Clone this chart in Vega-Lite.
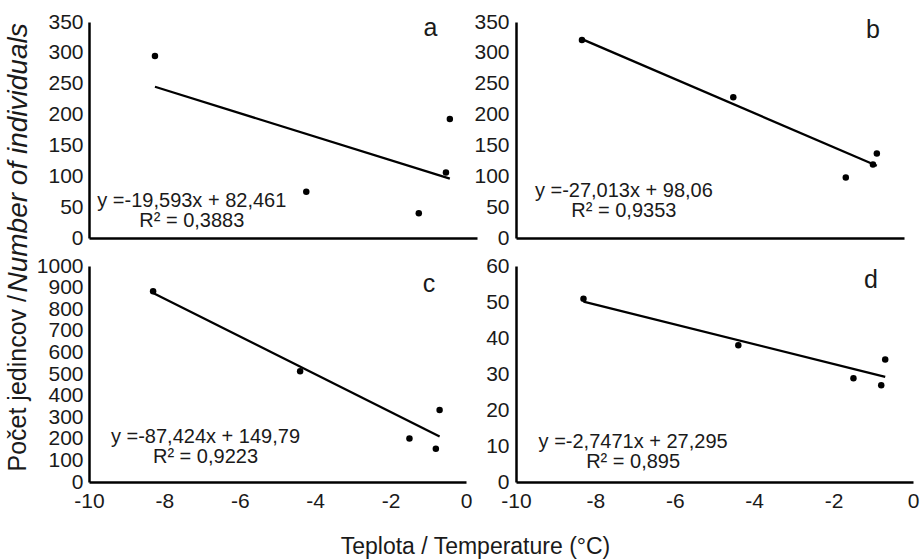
{
  "$schema": "https://vega.github.io/schema/vega-lite/v6.json",
  "padding": {"left": 3, "top": 11, "right": 5, "bottom": 2},
  "background": "white",
  "config": {
    "view": {"stroke": null},
    "font": "Liberation Sans",
    "axis": {"domainColor": "black", "domainWidth": 2.5, "ticks": false, "grid": false, "labelFont": "Liberation Sans", "labelFontSize": 21, "labelColor": "#1a1a1a", "labelFlush": false, "labelOverlap": false, "labelBound": false, "titleFont": "Liberation Sans", "titleFontWeight": "normal", "titleColor": "#1a1a1a"},
    "text": {"font": "Liberation Sans", "color": "#1a1a1a"}
  },
  "datasets": {
    "pts": [
      {"panel": "a", "t": -8.3, "n": 295}, {"panel": "a", "t": -4.4, "n": 75}, {"panel": "a", "t": -1.5, "n": 40}, {"panel": "a", "t": -0.8, "n": 106}, {"panel": "a", "t": -0.7, "n": 193},
      {"panel": "b", "t": -8.3, "n": 321}, {"panel": "b", "t": -4.4, "n": 228}, {"panel": "b", "t": -1.5, "n": 98}, {"panel": "b", "t": -0.8, "n": 119}, {"panel": "b", "t": -0.7, "n": 137},
      {"panel": "c", "t": -8.3, "n": 883}, {"panel": "c", "t": -4.4, "n": 513}, {"panel": "c", "t": -1.5, "n": 201}, {"panel": "c", "t": -0.8, "n": 154}, {"panel": "c", "t": -0.7, "n": 333},
      {"panel": "d", "t": -8.3, "n": 50.9}, {"panel": "d", "t": -4.4, "n": 38.0}, {"panel": "d", "t": -1.5, "n": 28.8}, {"panel": "d", "t": -0.8, "n": 26.9}, {"panel": "d", "t": -0.7, "n": 34.0}
    ],
    "fit": [
      {"panel": "a", "t": -8.3, "n": 245.1}, {"panel": "a", "t": -0.7, "n": 96.2},
      {"panel": "b", "t": -8.3, "n": 322.3}, {"panel": "b", "t": -0.7, "n": 117.0},
      {"panel": "c", "t": -8.3, "n": 875.4}, {"panel": "c", "t": -0.7, "n": 211.0},
      {"panel": "d", "t": -8.3, "n": 50.1}, {"panel": "d", "t": -0.7, "n": 29.2}
    ]
  },
  "bounds": "flush",
  "columns": 2,
  "spacing": {"row": 28, "column": 39},
  "concat": [
    {
      "width": 388, "height": 216,
      "encoding": {
        "x": {"field": "t", "type": "quantitative", "scale": {"domain": [-10, 0]}, "axis": {"values": [-10, -8, -6, -4, -2, 0], "labels": false, "title": null}},
        "y": {"field": "n", "type": "quantitative", "scale": {"domain": [0, 350]}, "axis": {"values": [0, 50, 100, 150, 200, 250, 300, 350], "format": "d", "labelOverlap": false, "labelPadding": 6, "title": "Number of individuals", "titleFontStyle": "italic", "titleFontSize": 28, "titleAngle": 270, "titleAlign": "left", "titleBaseline": "alphabetic", "titleX": -63, "titleY": 270}}
      },
      "layer": [
        {
          "data": {"name": "fit"}, "transform": [{"filter": "datum.panel === 'a'"}],
          "mark": {"type": "line", "color": "black", "strokeWidth": 2.3}
        },
        {
          "data": {"name": "pts"}, "transform": [{"filter": "datum.panel === 'a'"}],
          "mark": {"type": "point", "filled": true, "color": "black", "opacity": 1, "size": 42}
        },
        {
          "data": {"name": "pts"}, "transform": [{"filter": "datum.panel === 'a' && datum.t === -8.3"}],
          "mark": {"type": "text", "text": "a", "fontSize": 25, "align": "center", "baseline": "middle"},
          "encoding": {"x": {"datum": -1.2}, "y": {"datum": 340}}
        },
        {
          "data": {"name": "pts"}, "transform": [{"filter": "datum.panel === 'a' && datum.t === -8.3"}],
          "mark": {"type": "text", "text": ["y =-19,593x + 82,461", "R² = 0,3883"], "fontSize": 20, "lineHeight": 20, "align": "center", "baseline": "middle"},
          "encoding": {"x": {"datum": -7.35}, "y": {"datum": 60}}
        }
      ]
    },
    {
      "width": 388, "height": 216,
      "encoding": {
        "x": {"field": "t", "type": "quantitative", "scale": {"domain": [-10, 0]}, "axis": {"values": [-10, -8, -6, -4, -2, 0], "labels": false, "title": null}},
        "y": {"field": "n", "type": "quantitative", "scale": {"domain": [0, 350]}, "axis": {"values": [0, 50, 100, 150, 200, 250, 300, 350], "format": "d", "labelOverlap": false, "labelPadding": 7, "title": null}}
      },
      "layer": [
        {
          "data": {"name": "fit"}, "transform": [{"filter": "datum.panel === 'b'"}],
          "mark": {"type": "line", "color": "black", "strokeWidth": 2.3}
        },
        {
          "data": {"name": "pts"}, "transform": [{"filter": "datum.panel === 'b'"}],
          "mark": {"type": "point", "filled": true, "color": "black", "opacity": 1, "size": 42}
        },
        {
          "data": {"name": "pts"}, "transform": [{"filter": "datum.panel === 'b' && datum.t === -8.3"}],
          "mark": {"type": "text", "text": "b", "fontSize": 25, "align": "center", "baseline": "middle"},
          "encoding": {"x": {"datum": -0.8}, "y": {"datum": 337}}
        },
        {
          "data": {"name": "pts"}, "transform": [{"filter": "datum.panel === 'b' && datum.t === -8.3"}],
          "mark": {"type": "text", "text": ["y =-27,013x + 98,06", "R² = 0,9353"], "fontSize": 20, "lineHeight": 20, "align": "center", "baseline": "middle"},
          "encoding": {"x": {"datum": -7.22}, "y": {"datum": 76}}
        }
      ]
    },
    {
      "width": 377, "height": 216,
      "encoding": {
        "x": {"field": "t", "type": "quantitative", "scale": {"domain": [-10, 0]}, "axis": {"values": [-10, -8, -6, -4, -2, 0], "labelExpr": "replace(datum.label, '−', '-')", "labelOverlap": false, "labelPadding": 8, "title": "Teplota / Temperature (°C)", "titleFontSize": 23, "titleAlign": "center", "titleBaseline": "alphabetic", "titleX": 386, "titleY": 71}},
        "y": {"field": "n", "type": "quantitative", "scale": {"domain": [0, 1000]}, "axis": {"values": [0, 100, 200, 300, 400, 500, 600, 700, 800, 900, 1000], "format": "d", "labelOverlap": false, "labelPadding": 6, "title": "Počet jedincov / ", "titleFontSize": 25, "titleAngle": 270, "titleAlign": "left", "titleBaseline": "alphabetic", "titleX": -64, "titleY": 205}}
      },
      "layer": [
        {
          "data": {"name": "fit"}, "transform": [{"filter": "datum.panel === 'c'"}],
          "mark": {"type": "line", "color": "black", "strokeWidth": 2.3}
        },
        {
          "data": {"name": "pts"}, "transform": [{"filter": "datum.panel === 'c'"}],
          "mark": {"type": "point", "filled": true, "color": "black", "opacity": 1, "size": 42}
        },
        {
          "data": {"name": "pts"}, "transform": [{"filter": "datum.panel === 'c' && datum.t === -8.3"}],
          "mark": {"type": "text", "text": "c", "fontSize": 25, "align": "center", "baseline": "middle"},
          "encoding": {"x": {"datum": -0.98}, "y": {"datum": 917}}
        },
        {
          "data": {"name": "pts"}, "transform": [{"filter": "datum.panel === 'c' && datum.t === -8.3"}],
          "mark": {"type": "text", "text": ["y =-87,424x + 149,79", "R² = 0,9223"], "fontSize": 20, "lineHeight": 20, "align": "center", "baseline": "middle"},
          "encoding": {"x": {"datum": -6.91}, "y": {"datum": 210}}
        }
      ]
    },
    {
      "width": 397, "height": 216,
      "encoding": {
        "x": {"field": "t", "type": "quantitative", "scale": {"domain": [-10, 0]}, "axis": {"values": [-10, -8, -6, -4, -2, 0], "labelExpr": "replace(datum.label, '−', '-')", "labelOverlap": false, "labelPadding": 8, "title": null}},
        "y": {"field": "n", "type": "quantitative", "scale": {"domain": [0, 60]}, "axis": {"values": [0, 10, 20, 30, 40, 50, 60], "format": "d", "labelOverlap": false, "labelPadding": 7, "title": null}}
      },
      "layer": [
        {
          "data": {"name": "fit"}, "transform": [{"filter": "datum.panel === 'd'"}],
          "mark": {"type": "line", "color": "black", "strokeWidth": 2.3}
        },
        {
          "data": {"name": "pts"}, "transform": [{"filter": "datum.panel === 'd'"}],
          "mark": {"type": "point", "filled": true, "color": "black", "opacity": 1, "size": 42}
        },
        {
          "data": {"name": "pts"}, "transform": [{"filter": "datum.panel === 'd' && datum.t === -8.3"}],
          "mark": {"type": "text", "text": "d", "fontSize": 25, "align": "center", "baseline": "middle"},
          "encoding": {"x": {"datum": -1.06}, "y": {"datum": 56}}
        },
        {
          "data": {"name": "pts"}, "transform": [{"filter": "datum.panel === 'd' && datum.t === -8.3"}],
          "mark": {"type": "text", "text": ["y =-2,7471x + 27,295", "R² = 0,895"], "fontSize": 20, "lineHeight": 20, "align": "center", "baseline": "middle"},
          "encoding": {"x": {"datum": -7.05}, "y": {"datum": 11}}
        }
      ]
    }
  ]
}
